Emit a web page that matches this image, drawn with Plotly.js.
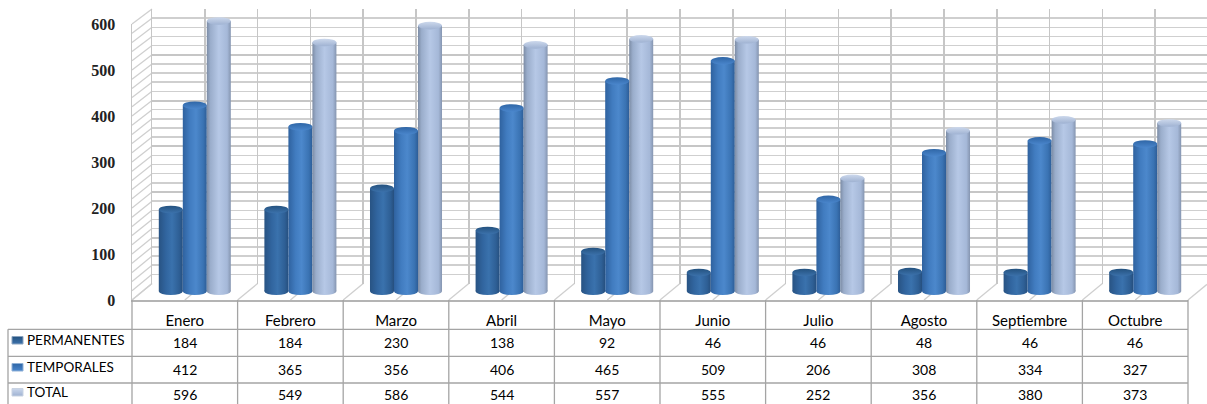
<!DOCTYPE html>
<html><head><meta charset="utf-8">
<script src="https://cdn.plot.ly/plotly-3.0.1.min.js"></script>
<style>html,body{margin:0;padding:0;background:#fff;overflow:hidden}#c{width:1207px;height:404px}</style>
</head><body><div id="c"></div>
<script>
const months = ["Enero","Febrero","Marzo","Abril","Mayo","Junio","Julio","Agosto","Septiembre","Octubre"];
const permanentes = [184,184,230,138,92,46,46,48,46,46];
const temporales = [412,365,356,406,465,509,206,308,334,327];
const total = [596,549,586,544,557,555,252,356,380,373];
const seriesNames = ["PERMANENTES","TEMPORALES","TOTAL"];
const yTicks = [0,100,200,300,400,500,600];

const W=1207,H=404;
const px=x=>x/W, py=y=>(H-y)/H;
const series=[permanentes,temporales,total];
const idx=months.map((_,i)=>i);
const bodyCol=['#2b5c94','#3a72b4','#a5b9da'];
const capCol=['#2d6199','#3d78bc','#b4c5e2'];
const grads={
 '#2b5c94':{id:'g0',dir:'h',stops:[[0,'#285383'],[.3,'#31659f'],[.55,'#3a72ad'],[.85,'#2e5f95'],[1,'#264f7e']]},
 '#3a72b4':{id:'g1',dir:'h',stops:[[0,'#2f629f'],[.3,'#417cc0'],[.55,'#4c88cc'],[.85,'#3a73b3'],[1,'#2d5d97']]},
 '#a5b9da':{id:'g2',dir:'h',stops:[[0,'#7c8ca5'],[.15,'#9aadcb'],[.5,'#b6c8e6'],[.85,'#a5b8d8'],[1,'#8595b0']]},
 '#2d6199':{id:'g3',dir:'v',stops:[[0,'#24527f'],[1,'#3c72ac']]},
 '#3d78bc':{id:'g4',dir:'v',stops:[[0,'#2f66a6'],[1,'#4a86cc']]},
 '#b4c5e2':{id:'g5',dir:'v',stops:[[0,'#ccd8ec'],[1,'#9fb2d2']]}
};

// geometry of the 3D box, in pixels
const frontL=132,frontR=1188,backL=152,catW=105.6;
const frontTop=24,frontBot=300,backTop=9,backBot=283.5;
const midX0=142,barZero=293.6,barScale=0.4573,barW=24,footPx=291.2;
const barTopPx=10,barBotPx=300;
const foot=(barZero-footPx)/barScale;
const tableRows=[329.3,356.3,383],tableVals=[342,369,394];

const line=(x0,y0,x1,y1,color,w,layer)=>({type:'line',xref:'paper',yref:'paper',x0:px(x0),y0:py(y0),x1:px(x1),y1:py(y1),line:{color,width:w},layer:layer||'below'});
const shapes=[];
const gridC='#cfcfcf';
// side wall
for(let v=0;v<=600;v+=20){
  const f=frontBot-(frontBot-frontTop)*v/600,b=backBot-(backBot-backTop)*v/600;
  shapes.push(line(frontL,f,backL,b,gridC,1.3));
}
// floor diagonals
for(let i=0;i<=20;i++){
  const xf=frontL+catW/2*i;
  shapes.push(line(xf,frontBot,Math.min(xf+20,W),backBot+(xf+20>W?(xf+20-W)*0.8:0),gridC,1.3));
}
// table
const tc='#a4a4a4';
for(let i=0;i<=10;i++) shapes.push(line(frontL+catW*i,frontBot,frontL+catW*i,H,tc,1.3,'above'));
tableRows.forEach(y=>shapes.push(line(8,y,frontR,y,tc,1.3,'above')));
shapes.push(line(8,tableRows[0],8,H,tc,1.3,'above'));
// legend keys
series.forEach((_,s)=>{
  const y=tableVals[s]-2;
  shapes.push({type:'rect',xref:'paper',yref:'paper',x0:px(12),x1:px(23),y0:py(y-3.5),y1:py(y+4),fillcolor:['#2d6199','#3d78bc','#b4c5e2'][s],line:{color:['#8aa3bf','#8fb0d6','#c9d3e2'][s],width:1},layer:'above'});
});
// cylinder ends
series.forEach((vals,s)=>{
  vals.forEach((v,i)=>{
    const xa=i+(s-1)*barW/catW;
    const base={type:'circle',xref:'x2',yref:'y2',xsizemode:'pixel',ysizemode:'pixel',xanchor:xa,x0:-barW/2,x1:barW/2,y0:-3.8,y1:3.8};
    shapes.push({...base,yanchor:foot,fillcolor:bodyCol[s],line:{width:0},layer:'below'});
    shapes.push({...base,yanchor:v,fillcolor:capCol[s],line:{width:0},layer:'above'});
  });
});

const annotations=[];
const lab={family:'Lato, "Open Sans", sans-serif',size:14,color:'#000'};
const labKey={...lab,size:13.5};
const labMonth={...lab,size:15};
series.forEach((vals,s)=>{
  annotations.push({xref:'paper',yref:'paper',x:px(25),y:py(tableVals[s]-2),xanchor:'left',yanchor:'middle',text:seriesNames[s],showarrow:false,font:labKey});
  vals.forEach((v,i)=>annotations.push({xref:'x3',yref:'paper',x:months[i],y:py(tableVals[s]),xanchor:'center',yanchor:'middle',text:String(v),showarrow:false,font:lab}));
});

const traces=[
 {type:'scatter',mode:'none',x:[0,9],y:[0,600],xaxis:'x',yaxis:'y',hoverinfo:'skip',showlegend:false},
 ...series.map((vals,s)=>({type:'bar',name:seriesNames[s],x:idx,base:foot,y:vals.map(v=>v-foot),xaxis:'x2',yaxis:'y2',marker:{color:bodyCol[s],line:{width:0}},hoverinfo:'skip',showlegend:false})),
 {type:'scatter',mode:'none',x:months,y:total,xaxis:'x3',yaxis:'y3',hoverinfo:'skip',showlegend:false}
];

const layout={
 width:W,height:H,margin:{l:0,r:0,t:0,b:0,pad:0},paper_bgcolor:'#fff',plot_bgcolor:'rgba(0,0,0,0)',
 showlegend:false,barmode:'group',bargap:0.318,bargroupgap:0,
 shapes,annotations,
 // back wall
 xaxis:{domain:[px(backL),1],range:[0,(W-backL)/catW],dtick:0.5,tick0:0,showgrid:true,gridcolor:'#c6c6c6',gridwidth:1.7,showticklabels:false,ticks:'',zeroline:false,anchor:'y',fixedrange:true},
 yaxis:{domain:[py(backBot),py(backTop)],range:[0,600],dtick:100,tick0:0,showgrid:true,gridcolor:'#c6c6c6',gridwidth:2,minor:{dtick:20,tick0:0,showgrid:true,gridcolor:gridC,gridwidth:1.5},showticklabels:false,ticks:'',zeroline:false,showline:true,linecolor:'#c6c6c6',linewidth:1.5,anchor:'x',fixedrange:true},
 // bars
 xaxis2:{domain:[px(midX0),px(midX0+catW*10)],range:[-0.5,9.5],visible:false,anchor:'y2',fixedrange:true},
 yaxis2:{domain:[py(barBotPx),py(barTopPx)],range:[(barZero-barBotPx)/barScale,(barZero-barTopPx)/barScale],visible:false,anchor:'x2',fixedrange:true},
 // front plane
 xaxis3:{domain:[px(frontL),px(frontR)],type:'category',categoryorder:'array',categoryarray:months,range:[-0.5,9.5],anchor:'y3',showline:true,linecolor:'#b4b4b4',linewidth:2,showgrid:false,zeroline:false,ticks:'outside',ticklen:6,tickcolor:'rgba(0,0,0,0)',tickfont:labMonth,fixedrange:true},
 yaxis3:{domain:[py(frontBot),py(frontTop)],range:[0,600],tickmode:'array',tickvals:yTicks,ticktext:yTicks.map(String),anchor:'x3',showline:true,linecolor:'#c6c6c6',linewidth:1.5,showgrid:false,zeroline:false,ticks:'outside',ticklen:12,tickcolor:'rgba(0,0,0,0)',tickfont:{family:'"Liberation Serif", serif',size:16,color:'#222',weight:700},fixedrange:true}
};

Plotly.newPlot('c',traces,layout,{displayModeBar:false,staticPlot:true}).then(()=>{
  const svg=document.querySelector('#c svg.main-svg');
  const NS='http://www.w3.org/2000/svg';
  let defs=svg.querySelector('defs');
  const map={};
  Object.keys(grads).forEach(hex=>{
    const g=grads[hex];
    const lg=document.createElementNS(NS,'linearGradient');
    lg.setAttribute('id',g.id);lg.setAttribute('x1','0');lg.setAttribute('y1','0');
    lg.setAttribute('x2',g.dir==='h'?'1':'0');lg.setAttribute('y2',g.dir==='h'?'0':'1');
    g.stops.forEach(st=>{const e=document.createElementNS(NS,'stop');e.setAttribute('offset',st[0]);e.setAttribute('stop-color',st[1]);lg.appendChild(e);});
    defs.appendChild(lg);
    const n=parseInt(hex.slice(1),16);
    map[`rgb(${n>>16}, ${(n>>8)&255}, ${n&255})`]=g.id;
  });
  document.querySelectorAll('#c .bars path, #c .shapelayer path').forEach(p=>{
    const id=map[p.style.fill];
    if(id) p.style.fill=`url(#${id})`;
  });
});
</script></body></html>
